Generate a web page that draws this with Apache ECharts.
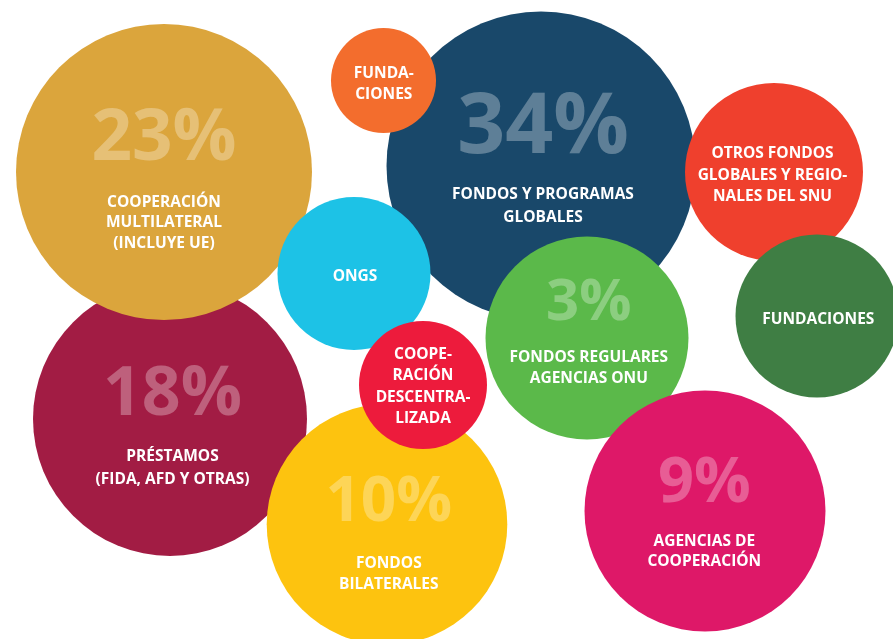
<!DOCTYPE html>
<html>
<head>
<meta charset="utf-8">
<script src="https://cdn.jsdelivr.net/npm/echarts@6/dist/echarts.min.js"></script>
<style>
html,body{margin:0;padding:0;background:#fff;}
#chart{width:893px;height:639px;}
</style>
</head>
<body>
<div id="chart"></div>
<script>
// ---- data (drawing order = back to front) ----
var categories = [
  'PRÉSTAMOS\n(FIDA, AFD Y OTRAS)',
  'COOPERACIÓN\nMULTILATERAL\n(INCLUYE UE)',
  'FONDOS Y PROGRAMAS\nGLOBALES',
  'FUNDA-\nCIONES',
  'ONGS',
  'OTROS FONDOS\nGLOBALES Y REGIO-\nNALES DEL SNU',
  'FONDOS REGULARES\nAGENCIAS ONU',
  'FUNDACIONES',
  'FONDOS\nBILATERALES',
  'COOPE-\nRACIÓN\nDESCENTRA-\nLIZADA',
  'AGENCIAS DE\nCOOPERACIÓN'
];
var percentages = ['18%', '23%', '34%', '', '', '', '3%', '', '10%', '', '9%'];
var bubbleX = [170, 164, 541, 383.5, 354, 774, 587, 817, 387, 423, 705];
var bubbleY = [419, 172, 166, 80.5, 273.5, 172, 338, 316, 524.3, 385, 511];
var bubbleR = [137, 148, 154.5, 52.5, 76.5, 89, 101.5, 81.5, 120.3, 64, 120.5];

// ---- styles ----
var colors = ['#A21C44', '#DBA53C', '#19486A', '#F36D2D', '#1DC2E6', '#EF402D',
              '#5BB94A', '#3F7E44', '#FDC30F', '#ED1B3C', '#DE1868'];
var pctFontSize   = [68, 71, 84, 0, 0, 0, 58, 0, 62, 0, 63];
var pctLineHeight = [100.5, 105.5, 107, 0, 0, 0, 86.9, 0, 99, 0, 94.1];
var txtLineHeight = [22.5, 20.5, 23, 21.7, 21.5, 21.3, 21.7, 21.5, 21, 21.4, 20.3];
var labelOffset = [[2.5,-1],[0,-1.75],[2,-13.5],[0.3,3.7],[1,3.5],[-1.5,3.3],
                   [1.8,-13.3],[1.3,4],[1.8,0],[0,1.5],[-0.7,-6.2]];

var FONT = '"Open Sans", "Noto Sans", sans-serif';

var seriesData = categories.map(function (name, i) {
  var lines = name.split('\n').map(function (l) { return '{t|' + l + '}'; });
  var text = (percentages[i] ? '{p|' + percentages[i] + '}\n' : '') + lines.join('\n');
  return {
    name: name,
    value: [bubbleX[i], bubbleY[i], bubbleR[i]],
    itemStyle: { color: colors[i], opacity: 1 },
    label: {
      formatter: text,
      offset: labelOffset[i],
      rich: {
        p: {
          fontFamily: FONT, fontWeight: 'bold',
          fontSize: pctFontSize[i] || 10,
          lineHeight: pctLineHeight[i] || 10,
          color: 'rgba(255,255,255,0.3)', align: 'center'
        },
        t: {
          fontFamily: FONT, fontWeight: 'bold', fontSize: 15.5,
          lineHeight: txtLineHeight[i], color: '#ffffff', align: 'center'
        }
      }
    }
  };
});

var chart = echarts.init(document.getElementById('chart'), null, { renderer: 'canvas' });
chart.setOption({
  animation: false,
  backgroundColor: '#ffffff',
  grid: { left: 0, right: 0, top: 0, bottom: 0 },
  xAxis: { type: 'value', min: 0, max: 893, show: false },
  yAxis: { type: 'value', min: 0, max: 639, inverse: true, show: false },
  series: [{
    type: 'scatter',
    clip: false,
    symbol: 'circle',
    symbolSize: function (v) { return v[2] * 2; },
    itemStyle: { opacity: 1 },
    emphasis: { disabled: true },
    label: { show: true, position: 'inside', textBorderWidth: 0 },
    data: seriesData
  }]
});
</script>
</body>
</html>
